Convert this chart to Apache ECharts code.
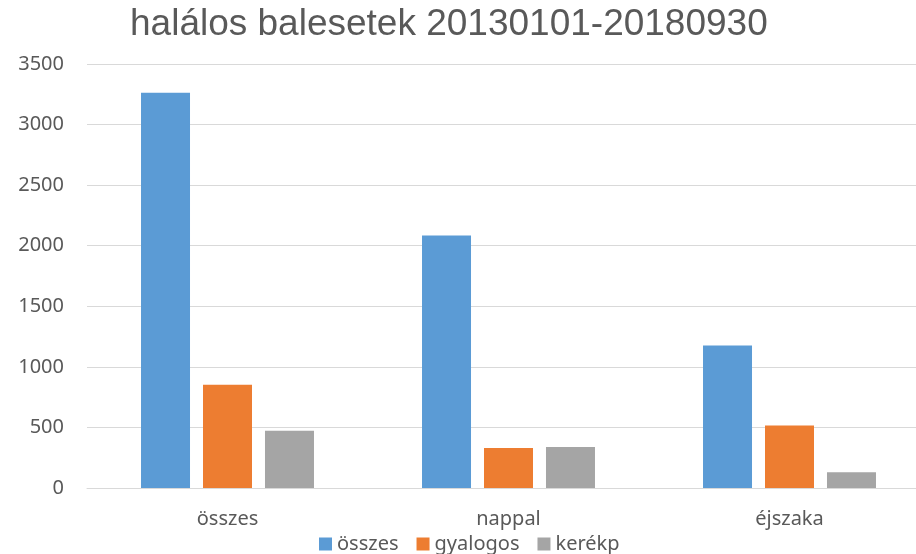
<!DOCTYPE html>
<html>
<head>
<meta charset="utf-8">
<script src="https://cdn.jsdelivr.net/npm/echarts@6/dist/echarts.min.js"></script>
<style>
html, body { margin: 0; padding: 0; background: #fff; }
#main { width: 916px; height: 554px; }
</style>
</head>
<body>
<div id="main"></div>
<script>
var chartDom = document.getElementById('main');
var myChart = echarts.init(chartDom);

// adatok
var categories = ['összes', 'nappal', 'éjszaka'];
var seriesNames = ['összes', 'gyalogos', 'kerékp'];
var osszes = [3262, 2085, 1176];
var gyalogos = [852, 330, 516];
var kerekp = [473, 339, 130];
var colors = ['#5b9bd5', '#ed7d31', '#a5a5a5'];

var values = [osszes, gyalogos, kerekp];
var series = [];
for (var i = 0; i < seriesNames.length; i++) {
    series.push({
        name: seriesNames[i],
        type: 'bar',
        data: values[i],
        barWidth: 49,
        barGap: '26.5%',
        itemStyle: { color: colors[i] }
    });
}

var option = {
    animation: false,
    color: colors,
    title: {
        text: 'halálos balesetek 20130101-20180930',
        left: 125,
        top: 1,
        textStyle: {
            fontFamily: 'Liberation Sans',
            fontSize: 37,
            fontWeight: 'normal',
            color: '#595959'
        }
    },
    legend: {
        left: 314,
        top: 529,
        itemWidth: 13,
        itemHeight: 13,
        itemGap: 18,
        icon: 'rect',
        data: seriesNames,
        textStyle: { fontFamily: 'Noto Sans', fontSize: 20, color: '#595959' }
    },
    grid: { left: 87, top: 64, width: 843, bottom: 66, outerBoundsMode: 'none', containLabel: false },
    xAxis: {
        type: 'category',
        data: categories,
        axisTick: { show: false },
        axisLine: { lineStyle: { color: '#d9d9d9', width: 1 } },
        axisLabel: { margin: 21, fontFamily: 'Noto Sans', fontSize: 20, color: '#595959' }
    },
    yAxis: {
        type: 'value',
        min: 0,
        max: 3500,
        interval: 500,
        axisLine: { show: false },
        axisTick: { show: false },
        splitLine: { lineStyle: { color: '#d9d9d9', width: 1 } },
        axisLabel: {
            margin: 23,
            fontFamily: 'Noto Sans',
            fontSize: 20,
            color: '#595959',
            formatter: function(v) { return String(v); }
        }
    },
    series: series
};
option && myChart.setOption(option);
</script>
</body>
</html>
